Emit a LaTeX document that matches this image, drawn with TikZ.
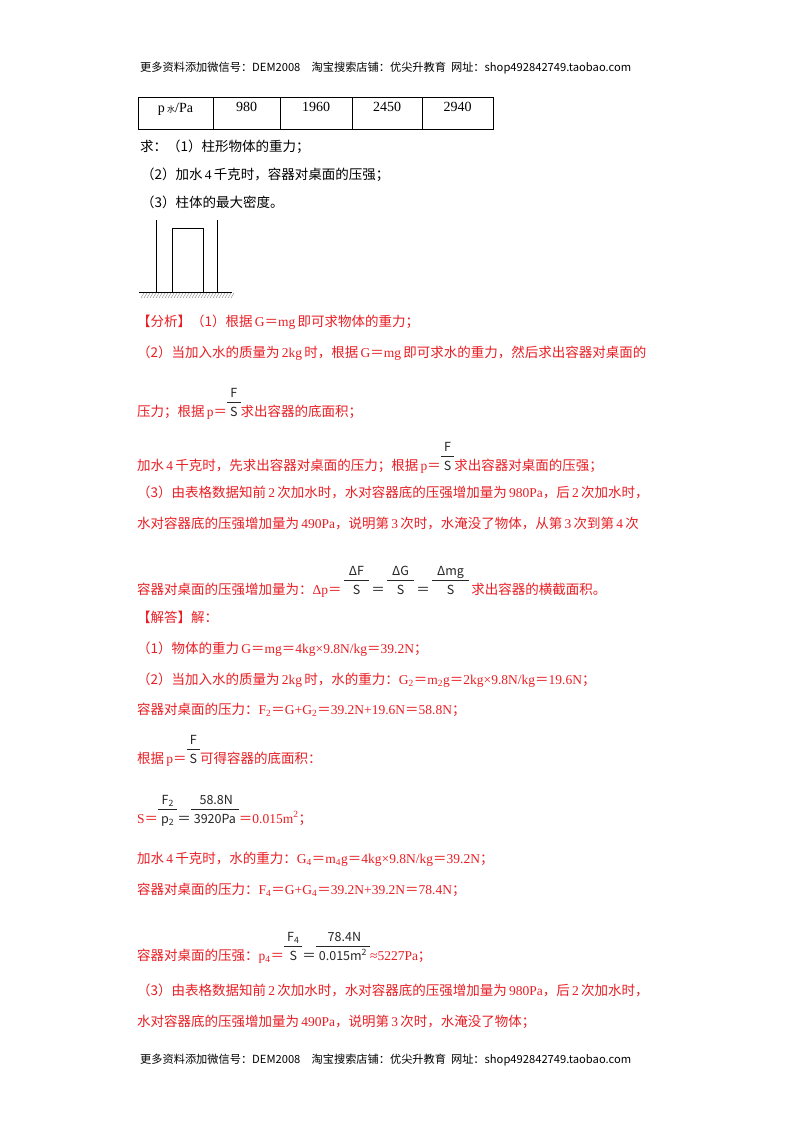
\documentclass[tikz,border=0pt]{standalone}
\usepackage{fontspec}
\setmainfont{Noto Sans CJK SC}
\newfontfamily\cjk{Noto Sans CJK SC}
\newfontfamily\lt{Liberation Serif}
\definecolor{rd}{RGB}{232,30,36}
\newcommand\eq{{\cjk ＝}}
\newcommand\ifr[2]{{\color{black!85}\begin{tabular}[b]{@{\hspace{3pt}}c@{\hspace{3pt}}}{\fontsize{12.5}{13}\selectfont #1}\\[1pt]\hline\rule{0pt}{13pt}{\fontsize{12.5}{13}\selectfont #2}\end{tabular}}}
\setlength{\arrayrulewidth}{0.6pt}
\tikzset{x=1pt,y=-1pt,
 tx/.style={anchor=base west,inner sep=0,font=\fontsize{13.5}{14}\selectfont},
 rt/.style={tx,text=rd},
 hd/.style={anchor=west,inner sep=0,font=\fontsize{11.2}{12}\selectfont},
 num/.style={inner sep=0,font=\lt\fontsize{14}{15}\selectfont}}
\begin{document}
\begin{tikzpicture}
\fill[white] (0,0) rectangle (800,1132);
\node[hd] (h1) at (140,68) {更多资料添加微信号：DEM2008\quad 淘宝搜索店铺：优尖升教育\ \ 网址：shop492842749.taobao.com};
\node[hd] (h2) at (140,1060) {更多资料添加微信号：DEM2008\quad 淘宝搜索店铺：优尖升教育\ \ 网址：shop492842749.taobao.com};
% table
\draw[line width=0.8] (138,97) rectangle (493,129);
\foreach \x in {213,280,352,422} \draw[line width=0.8] (\x,97)--(\x,129);
\node[num] (c0) at (175.5,109) {p\,{\cjk\fontsize{8}{8}\selectfont 水}/Pa};
\node[num] (c1) at (246.5,107) {980};
\node[num] (c2) at (316,107) {1960};
\node[num] (c3) at (387,107) {2450};
\node[num] (c4) at (457.5,107) {2940};
\node[tx] (q1) at (140,151) {求：（1）柱形物体的重力；};
\node[tx] (q2) at (141,179) {（2）加水{\lt\,4\,}千克时，容器对桌面的压强；};
\node[tx] (q3) at (141,207) {（3）柱体的最大密度。};
% figure
\draw[line width=0.7] (156,220)--(156,292) (217,220)--(217,292);
\draw[line width=0.7] (172,292)--(172,228)--(203,228)--(203,292);
\draw[line width=1] (139,292)--(232,292);
\foreach \i in {0,...,30} \draw[gray,line width=0.4] (141+3*\i,298)--(144+3*\i,293);
% analysis
\node[rt] (a1) at (137,326) {【分析】（1）根据{\lt\,G\eq mg\,}即可求物体的重力；};
\node[rt] (a2) at (137,357) {（2）当加入水的质量为{\lt\,2kg\,}时，根据{\lt\,G\eq mg\,}即可求水的重力，然后求出容器对桌面的};
\node[rt] (a3) at (137,416) {压力；根据{\lt\,p\eq}\ifr{F}{S}求出容器的底面积；};
\node[rt] (a4) at (137,470) {加水{\lt\,4\,}千克时，先求出容器对桌面的压力；根据{\lt\,p\eq}\ifr{F}{S}求出容器对桌面的压强；};
\node[rt] (a5) at (137,497) {（3）由表格数据知前{\lt\,2\,}次加水时，水对容器底的压强增加量为{\lt\,980Pa}，后{\lt\,2\,}次加水时，};
\node[rt] (a6) at (137,528) {水对容器底的压强增加量为{\lt\,490Pa}，说明第{\lt\,3\,}次时，水淹没了物体，从第{\lt\,3\,}次到第{\lt\,4\,}次};
\node[rt] (a7) at (137,594) {容器对桌面的压强增加量为：{\lt Δp\eq}\,\ifr{\,ΔF\,}{S}\,{\color{black!85}\eq}\,\ifr{\,ΔG\,}{S}\,{\color{black!85}\eq}\,\ifr{\,Δmg\,}{S}\,求出容器的横截面积。};
% solution
\node[rt] (s0) at (137,622) {【解答】解：};
\node[rt] (s1) at (137,653) {（1）物体的重力{\lt\,G\eq mg\eq 4kg×9.8N/kg\eq 39.2N}；};
\node[rt] (s2) at (137,684) {（2）当加入水的质量为{\lt\,2kg\,}时，水的重力：{\lt G\textsubscript{2}\eq m\textsubscript{2}g\eq 2kg×9.8N/kg\eq 19.6N}；};
\node[rt] (s3) at (137,714) {容器对桌面的压力：{\lt F\textsubscript{2}\eq G+G\textsubscript{2}\eq 39.2N+19.6N\eq 58.8N}；};
\node[rt] (s4) at (137,763) {根据{\lt\,p\eq}\ifr{F}{S}可得容器的底面积：};
\node[rt] (s5) at (137,823) {{\lt S\eq}\ifr{F\textsubscript{2}}{p\textsubscript{2}}{\color{black!85}\eq}\ifr{\ 58.8N\ }{3920Pa}{\lt\eq 0.015m\textsuperscript{2}}；};
\node[rt] (s6) at (137,863) {加水{\lt\,4\,}千克时，水的重力：{\lt G\textsubscript{4}\eq m\textsubscript{4}g\eq 4kg×9.8N/kg\eq 39.2N}；};
\node[rt] (s7) at (137,894) {容器对桌面的压力：{\lt F\textsubscript{4}\eq G+G\textsubscript{4}\eq 39.2N+39.2N\eq 78.4N}；};
\node[rt] (s8) at (137,960) {容器对桌面的压强：{\lt p\textsubscript{4}\eq}\ifr{F\textsubscript{4}}{S}{\color{black!85}\eq}\ifr{\ 78.4N\ }{0.015m\textsuperscript{2}}{\lt ≈5227Pa}；};
\node[rt] (s9) at (137,995) {（3）由表格数据知前{\lt\,2\,}次加水时，水对容器底的压强增加量为{\lt\,980Pa}，后{\lt\,2\,}次加水时，};
\node[rt] (s10) at (137,1026) {水对容器底的压强增加量为{\lt\,490Pa}，说明第{\lt\,3\,}次时，水淹没了物体；};
\end{tikzpicture}
\end{document}
